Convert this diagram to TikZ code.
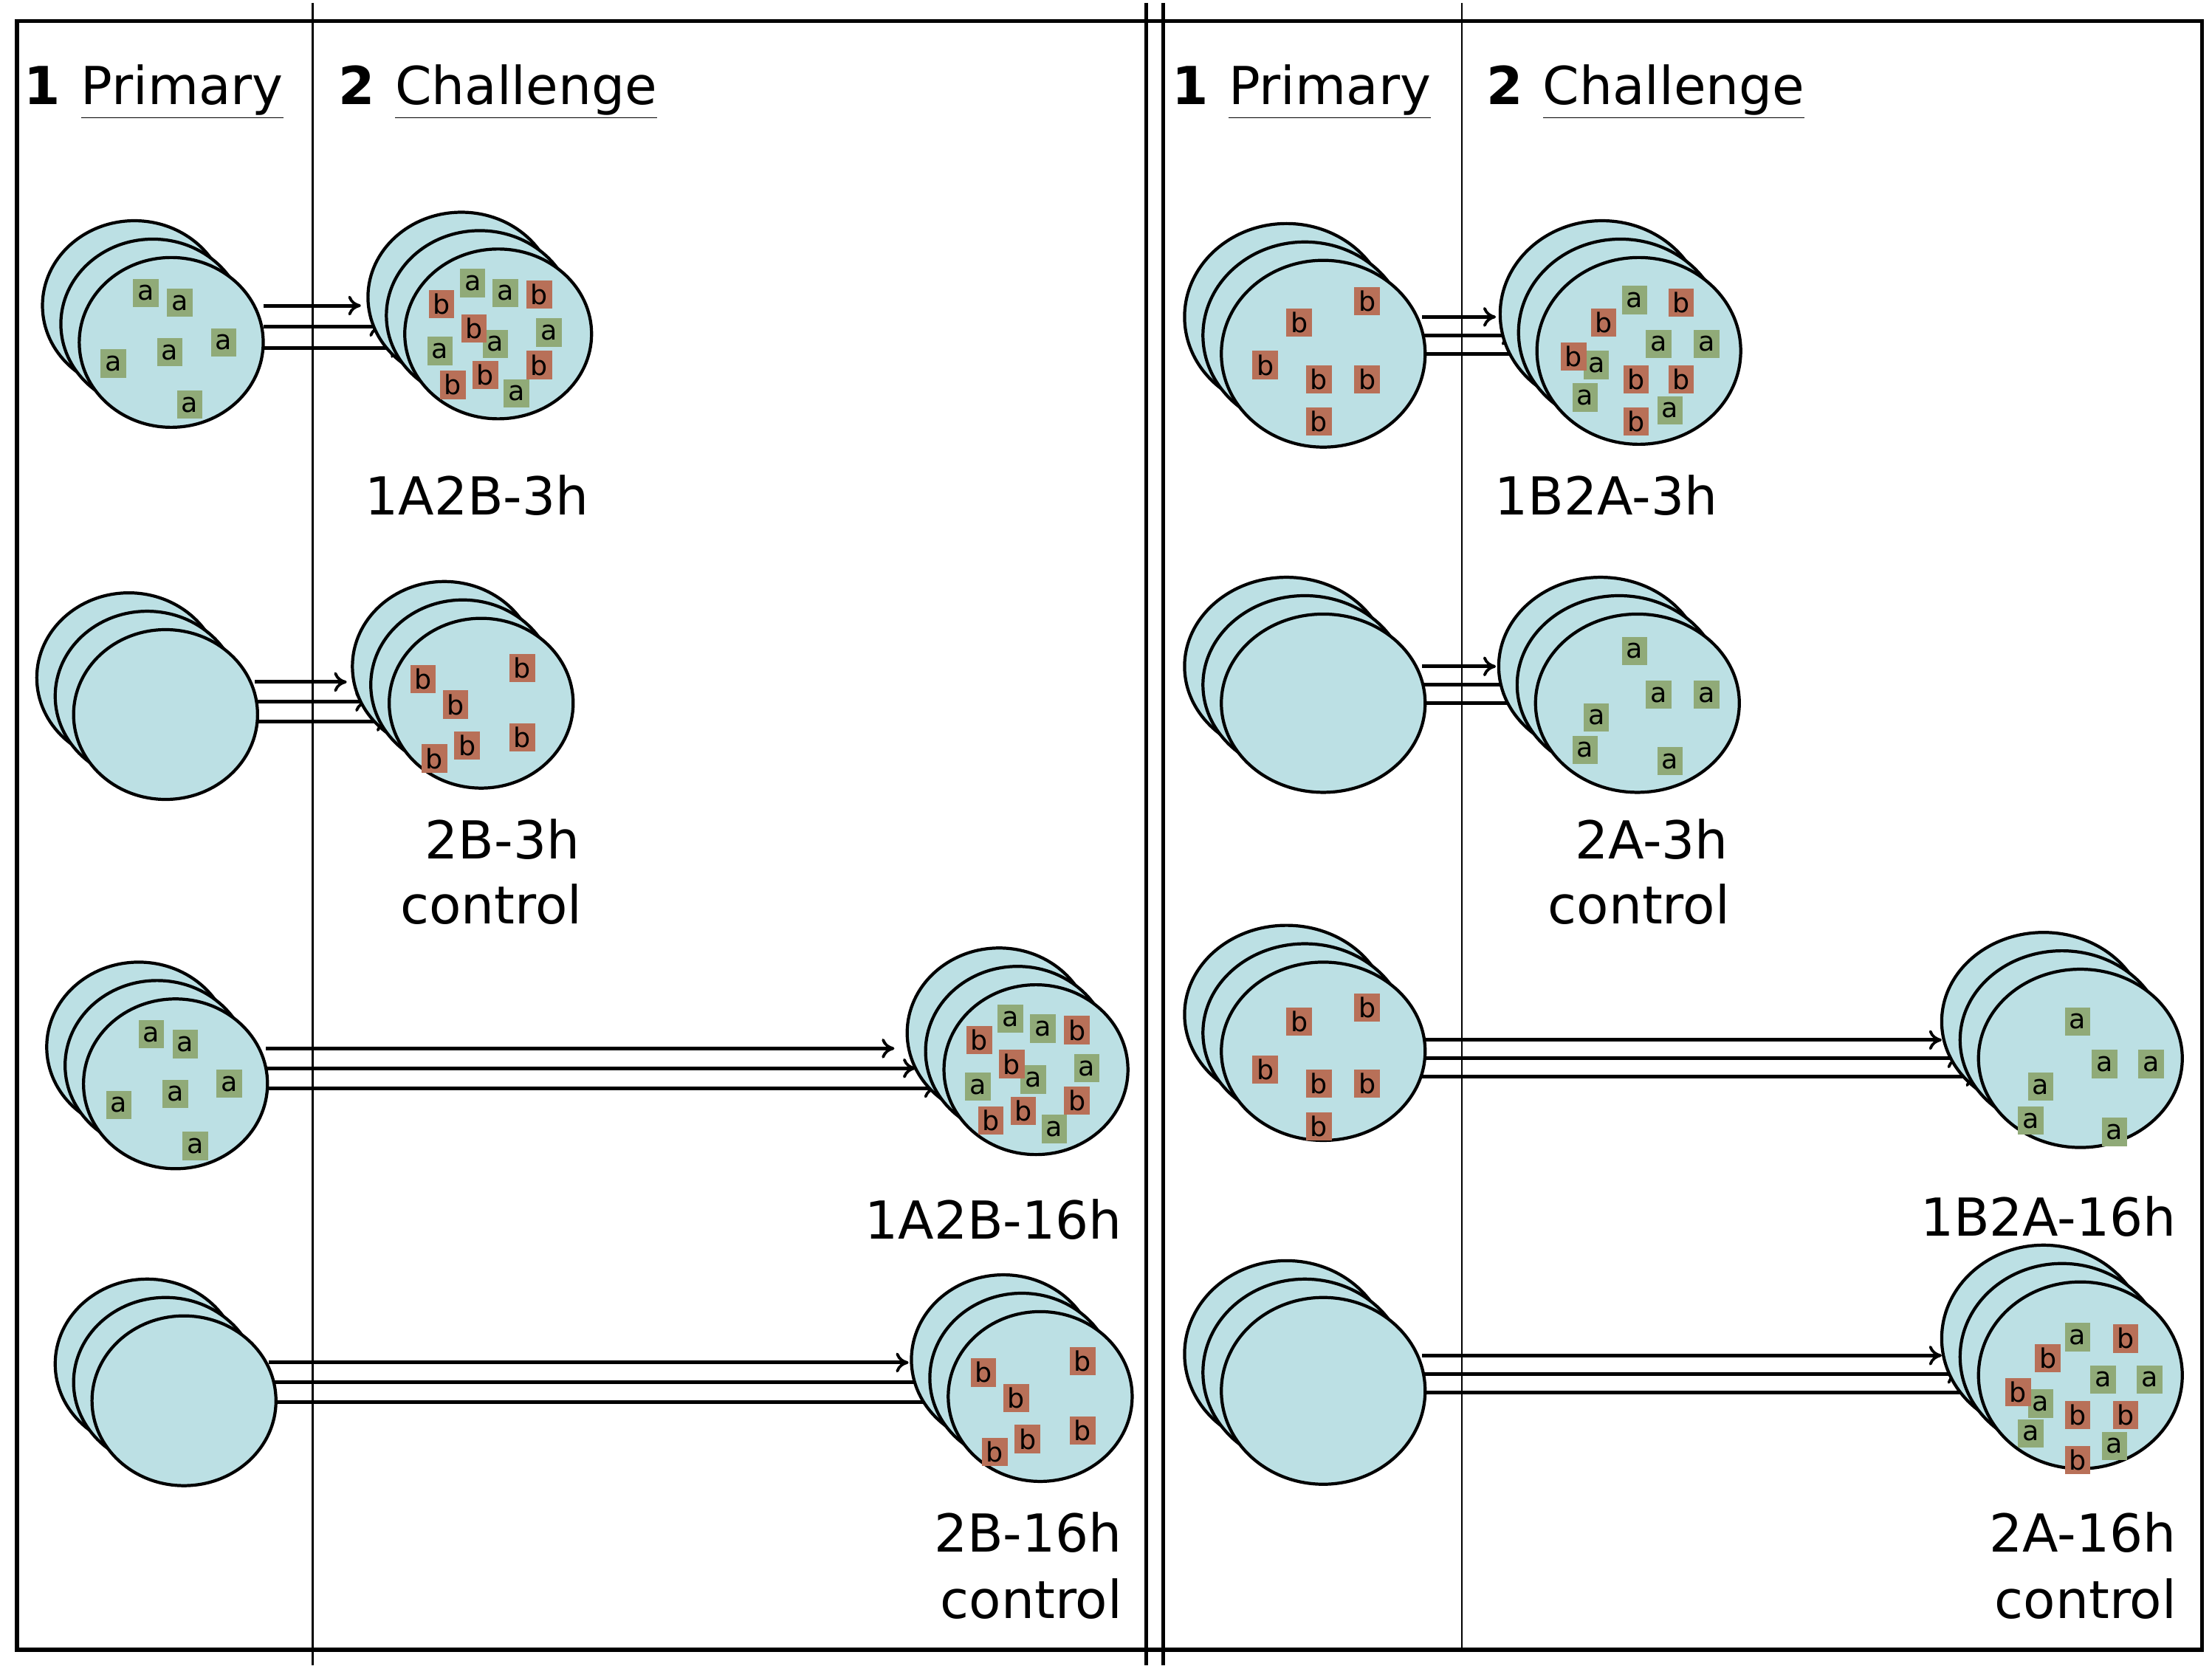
\documentclass[tikz,border=0pt]{standalone}
\usepackage{fontspec}
\setmainfont{DejaVu Sans}
\usetikzlibrary{arrows.meta}
\definecolor{cell}{HTML}{BCE0E4}
\definecolor{ga}{HTML}{90AA78}
\definecolor{rb}{HTML}{B87058}
\tikzset{
 cellst/.style={draw=black,line width=2.2pt,fill=cell},
 ma/.style={fill=ga,minimum width=18pt,minimum height=20pt,inner sep=0pt,font=\fontsize{19}{19}\selectfont},
 mb/.style={fill=rb,minimum width=18pt,minimum height=20pt,inner sep=0pt,font=\fontsize{19}{19}\selectfont},
 arr/.style={line width=2.6pt,-{To[length=9pt,width=14pt,line width=2pt]}},
 lbl/.style={font=\fontsize{37}{37}\selectfont,inner sep=0pt},
 hdr/.style={font=\fontsize{37}{37}\selectfont,inner sep=0pt,anchor=base west},
}
\newcommand{\cellstack}[4]{% x y rx ry
 \foreach \k in {2,1,0}{\draw[cellst] (#1-13*\k,#2-13*\k) ellipse ({#3} and {#4});}}
\newcommand{\arrows}[5]{% xstart xend0 y0 dy dx
 \foreach \k in {0,1,2}{\draw[arr] (#1,#3+#4*\k) -- (#2+#5*\k,#3+#4*\k);}}
\begin{document}
\begin{tikzpicture}[x=1pt,y=-1pt]
\useasboundingbox (0,0) rectangle (1563,1177);
\fill[white] (0,0) rectangle (1563,1177);
\draw[line width=2.8pt] (12,15) rectangle (1556,1166);
\draw[line width=2.8pt] (810,2) -- (810,1177);
\draw[line width=2.8pt] (822,2) -- (822,1177);
\draw[line width=1.2pt] (221,2) -- (221,1177);
\draw[line width=1.2pt] (1033,2) -- (1033,1166);
% headers
\foreach \ox in {0,811}{
 \node[hdr] at (17+\ox,74) {\textbf{1}};
 \node[hdr] at (57+\ox,74) {\underline{Primary}};
 \node[hdr] at (239+\ox,74) {\textbf{2}};
 \node[hdr] at (279+\ox,74) {\underline{Challenge}};
}
% ===== left row 1
\arrows{186}{255}{216}{15}{15}
\cellstack{121}{242}{65}{60}
\foreach \x/\y in {103/207,127/214,158/242,80/257,120/249,134/286}{\node[ma] at (\x,\y) {a};}
\cellstack{352}{236}{66}{60}
\foreach \x/\y in {334/200,357/207,350/243,388/235,311/248,365/278}{\node[ma] at (\x,\y) {a};}
\foreach \x/\y in {312/215,381/208,335/232,320/272,343/265,381/258}{\node[mb] at (\x,\y) {b};}
\node[lbl] (l1) at (337,350) {1A2B-3h};
% ===== left row 2
\arrows{180}{245}{482}{14}{15}
\cellstack{117}{505}{65}{60}
\cellstack{340}{497}{65}{60}
\foreach \x/\y in {299/480,369/472,322/498,307/536,330/527,369/521}{\node[mb] at (\x,\y) {b};}
\node[lbl] (l2) at (355,593) {2B-3h};
\node[lbl] (l2b) at (347,639) {control};
% ===== left row 3
\arrows{188}{632}{741}{14}{15}
\cellstack{124}{766}{65}{60}
\foreach \x/\y in {103/207,127/214,158/242,80/257,120/249,134/286}{\node[ma] at (\x+4,\y+524) {a};}
\cellstack{732}{756}{65}{60}
\foreach \x/\y in {334/200,357/207,350/243,388/235,311/248,365/278}{\node[ma] at (\x+380,\y+520) {a};}
\foreach \x/\y in {312/215,381/208,335/232,320/272,343/265,381/258}{\node[mb] at (\x+380,\y+520) {b};}
\node[lbl,anchor=east] (l3) at (793,862) {1A2B-16h};
% ===== left row 4
\arrows{190}{642}{963}{14}{15}
\cellstack{130}{990}{65}{60}
\cellstack{735}{987}{65}{60}
\foreach \x/\y in {299/480,369/472,322/498,307/536,330/527,369/521}{\node[mb] at (\x+396,\y+490) {b};}
\node[lbl,anchor=east] (l4) at (793,1083) {2B-16h};
\node[lbl,anchor=east] (l4b) at (793,1130) {control};
% ===== right row 1
\arrows{1005}{1057}{224}{13}{13}
\cellstack{935}{250}{72}{66}
\foreach \x/\y in {918/228,966/213,894/258,932/268,966/268,932/298}{\node[mb] at (\x,\y) {b};}
\cellstack{1158}{248}{72}{66}
\foreach \x/\y in {1155/212,1128/258,1172/243,1206/243,1120/281,1180/290}{\node[ma] at (\x,\y) {a};}
\foreach \x/\y in {1133/228,1188/214,1112/252,1156/268,1188/268,1156/298}{\node[mb] at (\x,\y) {b};}
\node[lbl] (r1) at (1135,350) {1B2A-3h};
% ===== right row 2
\arrows{1005}{1057}{471}{13}{13}
\cellstack{935}{497}{72}{63}
\cellstack{1157}{497}{72}{63}
\foreach \x/\y in {1155/460,1172/491,1206/491,1128/507,1120/530,1180/538}{\node[ma] at (\x,\y) {a};}
\node[lbl] (r2) at (1167,593) {2A-3h};
\node[lbl] (r2b) at (1158,639) {control};
% ===== right row 3
\arrows{1005}{1372}{735}{13}{13}
\cellstack{935}{743}{72}{63}
\foreach \x/\y in {918/722,966/712,894/756,932/766,966/766,932/796}{\node[mb] at (\x,\y) {b};}
\cellstack{1470}{748}{72}{63}
\foreach \x/\y in {1468/722,1487/752,1520/752,1442/768,1435/792,1494/800}{\node[ma] at (\x,\y) {a};}
\node[lbl,anchor=east] (r3) at (1538,860) {1B2A-16h};
% ===== right row 4
\arrows{1005}{1372}{958}{13}{13}
\cellstack{935}{983}{72}{66}
\cellstack{1470}{972}{72}{66}
\foreach \x/\y in {1468/945,1442/992,1486/975,1519/975,1435/1013,1494/1022}{\node[ma] at (\x,\y) {a};}
\foreach \x/\y in {1447/960,1502/946,1426/984,1468/1000,1502/1000,1468/1032}{\node[mb] at (\x,\y) {b};}
\node[lbl,anchor=east] (r4) at (1538,1083) {2A-16h};
\node[lbl,anchor=east] (r4b) at (1538,1130) {control};
\end{tikzpicture}
\end{document}
